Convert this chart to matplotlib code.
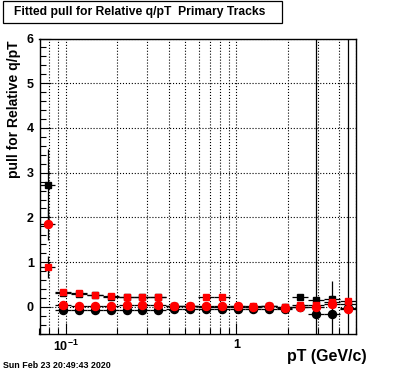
#!/usr/bin/env python3
import numpy as np
import matplotlib

matplotlib.use("Agg")
import matplotlib.pyplot as plt
import matplotlib.ticker as ticker
from matplotlib.patches import Rectangle

plt.rcParams["font.family"] = ["Liberation Sans", "DejaVu Sans"]
plt.rcParams["font.weight"] = "bold"
plt.rcParams["mathtext.fontset"] = "custom"
plt.rcParams["mathtext.rm"] = "Liberation Sans:bold"
plt.rcParams["mathtext.it"] = "Liberation Sans:bold"
plt.rcParams["mathtext.bf"] = "Liberation Sans:bold"

# ========================================================================
# Data
# ========================================================================
title = "Fitted pull for Relative q/pT  Primary Tracks"
ylabel = "pull for Relative q/pT"
xlabel = "pT (GeV/c)"
stamp = "Sun Feb 23 20:49:43 2020"

# bin centres in pT (GeV/c)
pt = [0.078, 0.096, 0.119, 0.148, 0.183, 0.227, 0.279, 0.345, 0.431, 0.532,
      0.66, 0.819, 1.016, 1.249, 1.542, 1.913, 2.366, 2.93, 3.63, 4.49]

# black squares
bsq = [2.72, 0.32, 0.29, 0.27, 0.23, 0.21, 0.21, 0.21, 0.01, 0.01,
       0.0, 0.0, 0.0, -0.01, 0.01, -0.01, 0.21, 0.16, 0.18, 0.06]
bsq_err = [0.8, 0.03, 0.02, 0.02, 0.02, 0.02, 0.02, 0.02, 0.02, 0.02,
           0.02, 0.02, 0.02, 0.02, 0.02, 0.03, 0.04, 0.06, 0.08, 0.1]

# black circles
bci = [np.nan, -0.07, -0.06, -0.06, -0.06, -0.06, -0.06, -0.06, -0.05, -0.04,
       -0.04, -0.04, -0.04, -0.05, -0.04, -0.05, -0.01, -0.165, -0.165, -0.02]
bci_err = [0.0, 0.02, 0.02, 0.02, 0.02, 0.02, 0.02, 0.02, 0.02, 0.02,
           0.02, 0.02, 0.02, 0.02, 0.02, 0.03, 0.05, 9.0, 0.75, 9.0]

# red squares
rsq = [0.89, 0.327, 0.30, 0.275, 0.237, 0.215, 0.215, 0.215, 0.02, 0.02,
       0.215, 0.215, 0.01, 0.02, 0.01, -0.01, 0.04, 0.04, 0.10, 0.125]
rsq_err = [0.25, 0.02, 0.02, 0.02, 0.02, 0.02, 0.02, 0.02, 0.02, 0.02,
           0.02, 0.02, 0.02, 0.02, 0.02, 0.03, 0.04, 0.05, 0.06, 0.08]

# red circles
rci = [1.86, 0.04, 0.02, 0.02, 0.02, 0.035, 0.04, 0.04, 0.015, 0.015,
       0.015, 0.02, 0.015, -0.01, 0.03, -0.03, -0.01, 0.0, 0.06, -0.045]
rci_err = [0.36, 0.02, 0.02, 0.02, 0.02, 0.02, 0.02, 0.02, 0.02, 0.02,
           0.02, 0.02, 0.02, 0.02, 0.02, 0.03, 0.04, 0.05, 0.06, 0.08]

xlim = (0.07, 5.0)
ylim = (-0.6, 6.0)

# ========================================================================
# Horizontal error bars: half bin widths (log bins)
# ========================================================================
c = np.array(pt)
mids = np.sqrt(c[1:] * c[:-1])
lo_edge = np.concatenate([[c[0] ** 2 / mids[0]], mids])
hi_edge = np.concatenate([mids, [c[-1] ** 2 / mids[-1]]])
xerr = [c - lo_edge, hi_edge - c]

# ========================================================================
# Figure
# ========================================================================
W, H = 396, 372
fig = plt.figure(figsize=(W / 100, H / 100), dpi=100)
ax = fig.add_axes([39.5 / W, (H - 333.7) / H, (355.7 - 39.5) / W, (333.7 - 38.5) / H])

series = [
    (bsq, bsq_err, "s", "black", 5.0),
    (bci, bci_err, "o", "black", 5.8),
    (rsq, rsq_err, "s", "red", 5.0),
    (rci, rci_err, "o", "red", 5.8),
]
for vals, errs, mk, col, ms in series:
    ax.errorbar(
        c,
        vals,
        xerr=xerr,
        yerr=errs,
        fmt=mk,
        ms=ms,
        mfc=col,
        mec=col,
        ecolor="black",
        elinewidth=0.9,
        capsize=0,
    )

ax.set_xscale("log")
ax.set_xlim(xlim)
ax.set_ylim(ylim)

ax.xaxis.set_major_locator(ticker.FixedLocator([0.1, 1.0]))
ax.xaxis.set_major_formatter(ticker.FixedFormatter([r"$10^{-1}$", "1"]))
ax.xaxis.set_minor_locator(ticker.LogLocator(base=10, subs=np.arange(2, 10), numticks=20))
ax.xaxis.set_minor_formatter(ticker.NullFormatter())
ax.yaxis.set_major_locator(ticker.MultipleLocator(1))
ax.yaxis.set_minor_locator(ticker.MultipleLocator(0.2))

ax.grid(which="both", axis="x", ls=":", color="black", lw=0.8)
ax.grid(which="major", axis="y", ls=":", color="black", lw=0.8)

ax.tick_params(which="both", direction="in", top=False, right=False, width=0.8)
ax.tick_params(which="major", length=8, labelsize=9, pad=4)
ax.tick_params(which="minor", length=4)
for s in ax.spines.values():
    s.set_linewidth(1.0)

# ========================================================================
# Texts
# ========================================================================
fig.patches.append(
    Rectangle((3.3 / W, (H - 22.7) / H), 278.4 / W, 21.7 / H,
              transform=fig.transFigure, fill=False, ec="black", lw=0.9)
)
fig.text(14 / W, (H - 12) / H, title, ha="left", va="center", fontsize=8.7, fontweight="bold")
fig.text(14 / W, (H - 40) / H, ylabel, rotation=90, ha="center", va="top",
         fontsize=10, fontweight="bold")
fig.text(367 / W, (H - 356) / H, xlabel, ha="right", va="center", fontsize=11.5, fontweight="bold")
fig.text(3 / W, (H - 365) / H, stamp, ha="left", va="center", fontsize=6.4, fontweight="bold")

fig.savefig("out.png", dpi=100)
